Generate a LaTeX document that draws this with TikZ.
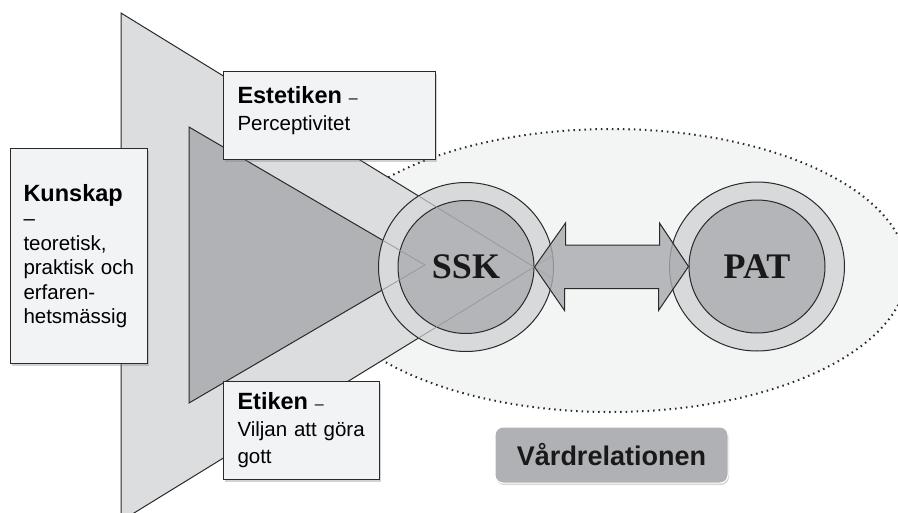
\documentclass[tikz,border=0pt]{standalone}
\usepackage{fontspec}
\setmainfont{Liberation Sans}
\newfontfamily\timesfont{Liberation Serif}
\usepackage{xcolor}
\usetikzlibrary{positioning, shapes.geometric, shadows, calc}
\definecolor{paleback}{HTML}{F3F4F4}
\definecolor{sidegray}{HTML}{DCDDDF}
\definecolor{conegray}{HTML}{B1B2B5}
\definecolor{ringgray}{HTML}{D8D9DB}
\definecolor{coregray}{HTML}{B4B5B8}
\definecolor{arrowgray}{HTML}{A9AAAD}
\definecolor{boxfill}{HTML}{F2F3F5}
\definecolor{tabgray}{HTML}{B0B1B4}
\definecolor{linegray}{HTML}{2A2A2A}
\newcommand{\rubrik}[1]{{\fontsize{23.5}{26}\selectfont\bfseries #1}}

\begin{document}
\begin{tikzpicture}[x=1pt, y=-1pt,
  txtbox/.style={draw=linegray, fill=boxfill, line width=1pt, align=left,
    anchor=north west, inner ysep=4pt,
    drop shadow={shadow xshift=1.5pt, shadow yshift=-2pt, opacity=0.35}},
  ring/.style={ellipse, draw=linegray, fill=ringgray, line width=1pt,
    minimum width=175, minimum height=169},
  core/.style={ellipse, draw=linegray, fill=coregray, line width=1pt,
    minimum width=136, minimum height=133, text=black!90,
    font=\timesfont\bfseries\fontsize{36}{40}\selectfont},
  faint/.style={draw=black!40, line width=0.8pt},
  twoway/.style={draw=linegray, fill=arrowgray, fill opacity=0.8,
    line width=1pt, line join=miter}
]
\clip (0,0) rectangle (898,512);

% Relation area (dotted)
\node[ellipse, draw=linegray, fill=paleback, line width=2pt,
  dash pattern=on 1.5pt off 4pt, minimum width=592, minimum height=283]
  (rel) at (611,270.5) {};

% Knowledge planes
\coordinate (apex) at (534,267);
\coordinate (tip) at (425,265);
\filldraw[fill=sidegray, draw=linegray, line width=1pt]
  (121,13) -- (apex) -- (121,521) -- cycle;
\filldraw[fill=conegray, draw=linegray, line width=1pt]
  (189,127) -- (tip) -- (189,403) -- cycle;

% Text boxes
\node[txtbox, font=\fontsize{20.5}{24.5}\selectfont, inner xsep=13pt,
  text width=111, minimum width=137, minimum height=215] (kunskap) at (10,148)
  {\rubrik{Kunskap}\\ –\\ teoretisk,\\ praktisk och\\ erfaren-\\ hetsmässig};
\node[txtbox, font=\fontsize{20.5}{27}\selectfont, inner xsep=14pt,
  text width=184, minimum width=212, minimum height=88] (estetik) at (223,71)
  {\rubrik{Estetiken} {\fontsize{16}{20}\selectfont –}\\ Perceptivitet\\[-13pt]\mbox{}};
\node[txtbox, font=\fontsize{20.5}{27}\selectfont, inner xsep=14pt,
  text width=128, minimum width=156, minimum height=98] (etik) at (223,381)
  {\rubrik{Etiken} {\fontsize{16}{20}\selectfont –}\\ Viljan att göra\\ gott};

% Nurse and patient
\node[ring] (ssk) at (466,267) {};
\node[core] (sskin) at (ssk.center) {SSK};
\node[ring] (pat) at (757,266.5) {};
\node[core] (patin) at (pat.center) {PAT};

% Plane edges seen through the SSK rings
\begin{scope}
  \clip (ssk.center) ellipse [x radius=87.5, y radius=84.5];
  \draw[faint] (121,13) -- (560,283);
  \draw[faint] (121,521) -- (560,251);
  \draw[faint] (189,127) -- (tip) -- (189,403);
\end{scope}

% Double arrow between SSK and PAT
\draw[twoway] (sskin.east) -- ++(31,-44) -- ++(0,22) -- ++(94,0)
  -- ++(0,-22) -- (patin.west) -- ++(-30,44) -- ++(0,-22)
  -- ++(-94,0) -- ++(0,22) -- cycle;

% Label
\node[draw=white, fill=tabgray, rounded corners=8pt, line width=1pt,
  minimum width=233, minimum height=56,
  font=\fontsize{27}{30}\selectfont\bfseries, text=black!90,
  drop shadow={shadow xshift=1pt, shadow yshift=-2pt, opacity=0.3}]
  (vard) at (611.5,455) {Vårdrelationen};

\end{tikzpicture}
\end{document}
